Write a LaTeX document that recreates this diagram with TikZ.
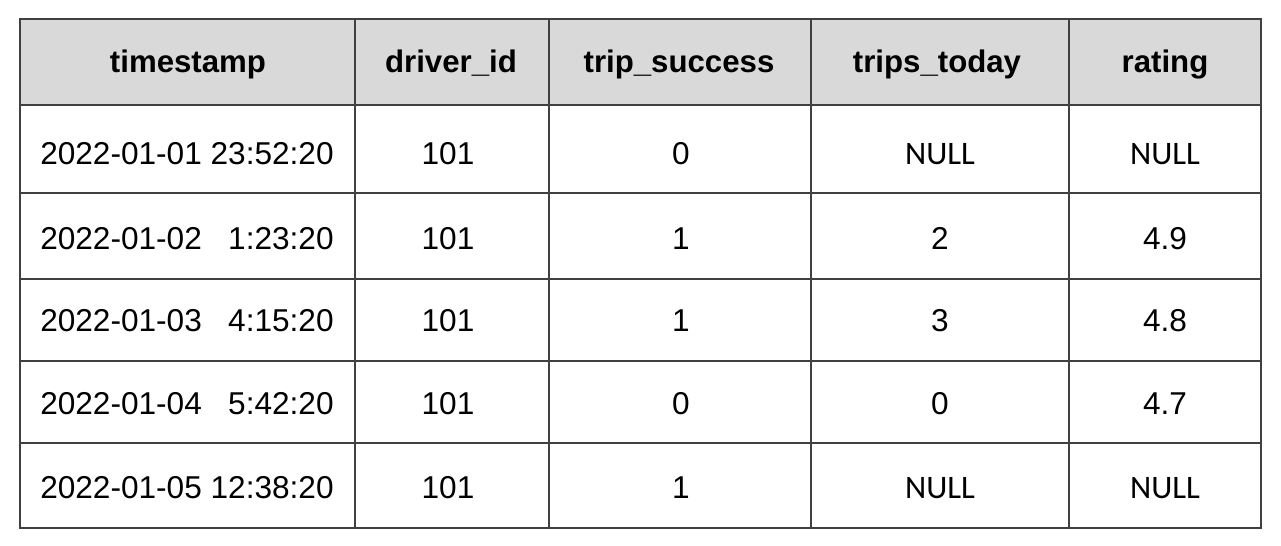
\documentclass[tikz,border=0pt]{standalone}
\usepackage{fontspec}
\setmainfont{Liberation Sans}
\newfontfamily\calfont{Carlito}

\definecolor{headgray}{HTML}{D9D9D9}
\definecolor{linegray}{HTML}{404040}

\newcommand{\stamp}[2]{#1\ \phantom{00:00:00}\llap{#2}}
\newcommand{\nul}{{\calfont\fontsize{16.4}{19}\selectfont NULL}}

\tikzset{
    head/.style={anchor=base, inner sep=0pt, font=\fontsize{15.6}{19}\selectfont\bfseries},
    cell/.style={anchor=base, inner sep=0pt, font=\fontsize{15.8}{19}\selectfont},
    grid/.style={draw=linegray, line width=1pt}
}

\begin{document}
\begin{tikzpicture}[x=0.5pt, y=-0.5pt]
        \useasboundingbox (0, 0) rectangle (1281, 546);

        \fill[headgray] (20, 19) rectangle (1261, 105);

        \draw[grid] (20, 19) rectangle (1261, 528);

        \draw[grid] (20, 105) -- (1261, 105);
        \draw[grid] (20, 193) -- (1261, 193);
        \draw[grid] (20, 279) -- (1261, 279);
        \draw[grid] (20, 361) -- (1261, 361);
        \draw[grid] (20, 443) -- (1261, 443);

        \draw[grid] (355, 19) -- (355, 528);
        \draw[grid] (549, 19) -- (549, 528);
        \draw[grid] (811, 19) -- (811, 528);
        \draw[grid] (1069, 19) -- (1069, 528);

        \node[head] (h1) at (188, 72) {timestamp};
        \node[head] (h2) at (451, 72) {driver\_id};
        \node[head] (h3) at (679, 72) {trip\_success};
        \node[head] (h4) at (937, 72) {trips\_today};
        \node[head] (h5) at (1165, 72) {rating};

        \node[cell] (r1c1) at (187, 164) {\stamp{2022-01-01}{23:52:20}};
        \node[cell] (r1c2) at (448, 164) {101};
        \node[cell] (r1c3) at (681, 164) {0};
        \node[cell] (r1c4) at (940, 164) {\nul};
        \node[cell] (r1c5) at (1165, 164) {\nul};

        \node[cell] (r2c1) at (187, 249) {\stamp{2022-01-02}{1:23:20}};
        \node[cell] (r2c2) at (448, 249) {101};
        \node[cell] (r2c3) at (681, 249) {1};
        \node[cell] (r2c4) at (940, 249) {2};
        \node[cell] (r2c5) at (1165, 249) {4.9};

        \node[cell] (r3c1) at (187, 331) {\stamp{2022-01-03}{4:15:20}};
        \node[cell] (r3c2) at (448, 331) {101};
        \node[cell] (r3c3) at (681, 331) {1};
        \node[cell] (r3c4) at (940, 331) {3};
        \node[cell] (r3c5) at (1165, 331) {4.8};

        \node[cell] (r4c1) at (187, 414) {\stamp{2022-01-04}{5:42:20}};
        \node[cell] (r4c2) at (448, 414) {101};
        \node[cell] (r4c3) at (681, 414) {0};
        \node[cell] (r4c4) at (940, 414) {0};
        \node[cell] (r4c5) at (1165, 414) {4.7};

        \node[cell] (r5c1) at (187, 498) {\stamp{2022-01-05}{12:38:20}};
        \node[cell] (r5c2) at (448, 498) {101};
        \node[cell] (r5c3) at (681, 498) {1};
        \node[cell] (r5c4) at (940, 498) {\nul};
        \node[cell] (r5c5) at (1165, 498) {\nul};
    \end{tikzpicture}
\end{document}
